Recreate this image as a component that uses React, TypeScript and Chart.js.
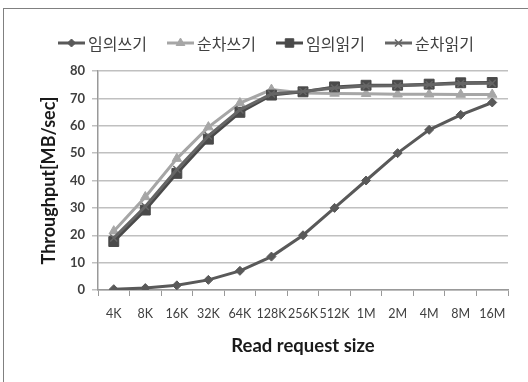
import React, { useEffect, useRef } from 'react';
import { Chart, registerables } from 'chart.js';
import { drawPoint } from 'chart.js/helpers';

Chart.register(...registerables);

const categories = ['4K', '8K', '16K', '32K', '64K', '128K', '256K', '512K', '1M', '2M', '4M', '8M', '16M'];
const seriesLabels = ['임의쓰기', '순차쓰기', '임의읽기', '순차읽기'];
const randomWrite = [0.3, 0.7, 1.7, 3.7, 7, 12.2, 20, 30, 40, 50, 58.5, 64, 68.5];
const seqWrite = [21.5, 34, 48, 59.5, 68.3, 73.2, 72, 71.8, 71.7, 71.5, 71.5, 71.4, 71.4];
const randomRead = [17.7, 29.2, 42.6, 55.1, 64.9, 71.2, 72.4, 74.2, 74.8, 74.8, 75.2, 75.7, 75.8];
const seqRead = [19, 30.5, 44, 56.3, 65.8, 71.6, 72.5, 73.8, 74.5, 74.6, 75, 75.4, 75.5];
const yMin = 0;
const yMax = 80;
const yStep = 10;
const xTitle = 'Read request size';
const yTitle = 'Throughput[MB/sec]';

const legendPlugin = {
  id: 'lineLegend',
  afterDraw(chart: any) {
    const { ctx } = chart;
    const ds = chart.data.datasets;
    ctx.save();
    ctx.font = '16px "Noto Sans CJK KR"';
    const lineW = 27;
    const gapText = 3;
    const startX = 58;
    const step = 109;
    const y = 43;
    ds.forEach((d: any, i: number) => {
      const x = startX + i * step;
      ctx.strokeStyle = d.borderColor;
      ctx.lineWidth = 3;
      ctx.beginPath();
      ctx.moveTo(x, y);
      ctx.lineTo(x + lineW, y);
      ctx.stroke();
      ctx.fillStyle = d.pointBackgroundColor;
      ctx.strokeStyle = d.pointBorderColor;
      ctx.lineWidth = d.pointBorderWidth;
      drawPoint(ctx, { pointStyle: d.pointStyle, radius: d.legendRadius, borderWidth: d.pointBorderWidth, rotation: 0 } as any, x + lineW / 2, y);
      ctx.fillStyle = '#404040';
      ctx.textBaseline = 'middle';
      ctx.textAlign = 'left';
      ctx.fillText(d.label, x + lineW + gapText, y + 1);
    });
    ctx.restore();
  },
};

export default function App() {
  const ref = useRef<HTMLCanvasElement>(null);
  useEffect(() => {
    if (!ref.current) return;
    const mk = (label: string, data: number[], color: string, style: string, r: number, lr: number, order: number, bw = 1) => ({
      label,
      data,
      borderColor: color,
      backgroundColor: color,
      pointBackgroundColor: color,
      pointBorderColor: color,
      pointStyle: style,
      pointRadius: r,
      legendRadius: lr,
      pointBorderWidth: bw,
      borderWidth: 3,
      tension: 0,
      order,
    });
    const chart = new Chart(ref.current, {
      type: 'line',
      data: {
        labels: categories,
        datasets: [
          mk(seriesLabels[0], randomWrite, '#595959', 'rectRot', 4.5, 4, 4),
          mk(seriesLabels[1], seqWrite, '#a6a6a6', 'triangle', 5.5, 5, 3),
          mk(seriesLabels[2], randomRead, '#4a4a4a', 'rect', 7, 6, 2),
          mk(seriesLabels[3], seqRead, '#666666', 'crossRot', 5, 5, 1, 1.5),
        ] as any,
      },
      options: {
        responsive: false,
        animation: false,
        layout: { padding: { left: 0, right: 20, top: 71, bottom: 0 } },
        plugins: {
          legend: { display: false },
          tooltip: { enabled: false },
        },
        scales: {
          x: {
            offset: true,
            afterFit: (s: any) => { s.height = 92; },
            grid: { display: true, offset: true, drawOnChartArea: false, drawTicks: true, tickLength: 6, color: '#999999', lineWidth: 1 },
            border: { display: true, color: '#999999', width: 1.5 },
            ticks: { color: '#404040', font: { family: 'Lato', size: 12.5 }, padding: 10, maxRotation: 0, autoSkip: false },
            title: { display: true, text: xTitle, color: '#1a1a1a', font: { family: 'Lato', size: 18.5, weight: 'bold' }, padding: { top: 0, bottom: 25 } },
          },
          y: {
            min: yMin,
            max: yMax,
            afterFit: (s: any) => { s.width = 98; },
            grid: { color: '#c0c0c0', lineWidth: 1.5, tickLength: 6, drawTicks: true },
            border: { display: true, color: '#999999', width: 1.5 },
            ticks: { stepSize: yStep, color: '#404040', font: { family: 'Lato', size: 13, weight: 'bold' }, padding: 7 },
            title: { display: true, text: yTitle, color: '#1a1a1a', font: { family: 'Lato', size: 18, weight: 'bold' }, padding: { top: 38, bottom: 0 } },
          },
        },
      },
      plugins: [legendPlugin],
    } as any);
    return () => chart.destroy();
  }, []);
  return (
    <div style={{ position: 'absolute', left: 0, top: 0, width: 528, height: 382, background: '#fff' }}>
      <div style={{ position: 'absolute', left: 3, top: 8, right: 0, bottom: 0, borderLeft: '1px solid #808080', borderTop: '1px solid #808080' }} />
      <canvas ref={ref} width={528} height={382} style={{ position: 'absolute', left: 0, top: 0 }} />
    </div>
  );
}
